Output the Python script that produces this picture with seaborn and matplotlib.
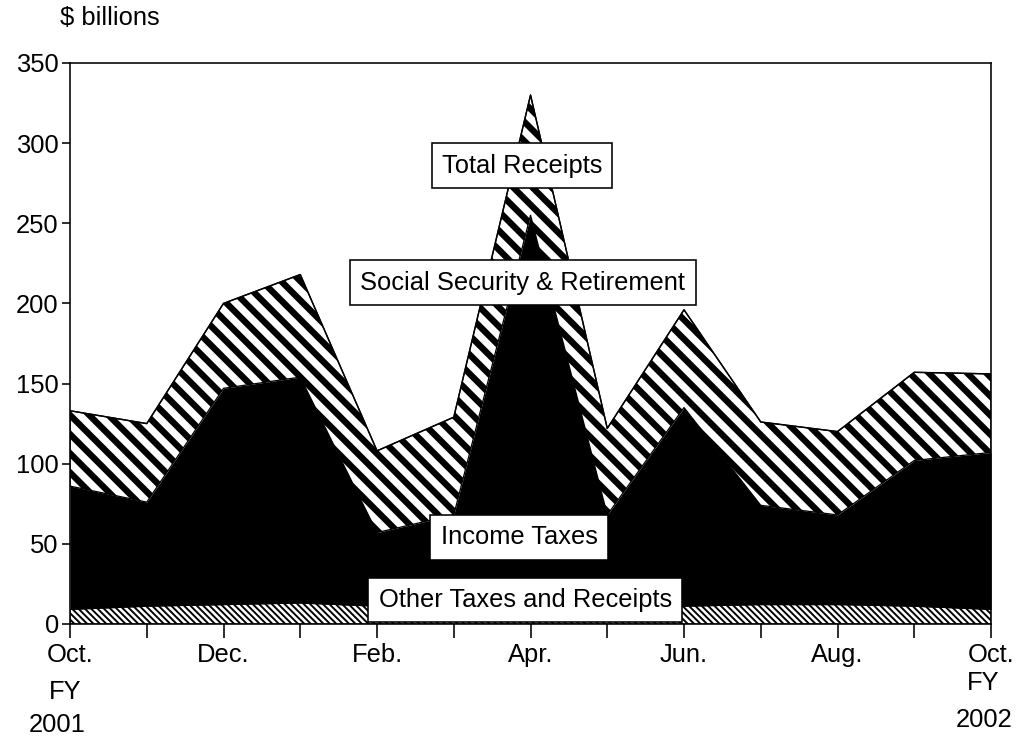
import pandas as pd
import matplotlib
matplotlib.use("Agg")
import matplotlib.pyplot as plt
import seaborn as sns

# Monthly receipts, FY2001 Oct -> FY2002 Oct ($ billions)
months = ["Oct.", "Nov.", "Dec.", "Jan.", "Feb.", "Mar.", "Apr.",
          "May", "Jun.", "Jul.", "Aug.", "Sep.", "Oct."]
other = [9, 11, 12, 13, 11, 11, 12, 11, 11, 12, 12, 11, 9]
income = [77, 65, 135, 141, 46, 57, 243, 57, 124, 62, 56, 91, 98]
socsec = [47, 49, 53, 64, 51, 61, 75, 54, 61, 52, 52, 55, 49]

df = pd.DataFrame({"month": range(len(months)), "other": other,
                   "income": income, "socsec": socsec})
df["income_top"] = df["other"] + df["income"]
df["total"] = df["income_top"] + df["socsec"]

sns.set_style("ticks")
plt.rcParams["font.family"] = ["Liberation Sans", "DejaVu Sans"]
plt.rcParams["font.size"] = 16
plt.rcParams["text.color"] = "black"

DPI = 115
fig, ax = plt.subplots(figsize=(1018 / DPI, 741 / DPI), dpi=DPI)
fig.subplots_adjust(left=0.0688, right=0.9735, top=0.915, bottom=0.158)

# other taxes: fine hatch
with plt.rc_context({"hatch.linewidth": 1.2}):
    ax.fill_between(df["month"], 0, df["other"], facecolor="white",
                    edgecolor="black", hatch="\\" * 6, linewidth=0.6)
# income taxes: solid black
ax.fill_between(df["month"], df["other"], df["income_top"],
                color="black", linewidth=0)
# social security: thick stripes
with plt.rc_context({"hatch.linewidth": 4.0}):
    ax.fill_between(df["month"], df["income_top"], df["total"],
                    facecolor="white", edgecolor="black", hatch="\\\\",
                    linewidth=0.8)
sns.lineplot(data=df, x="month", y="total", color="black", lw=0.9, ax=ax)

ax.set_xlim(0, len(months) - 1)
ax.set_ylim(0, 350)
ax.set_yticks(range(0, 351, 50))
ax.set_xticks(df["month"])
ax.set_xticklabels([m if i % 2 == 0 else "" for i, m in enumerate(months)])
ax.set_xlabel("")
ax.set_ylabel("")
ax.tick_params(axis="x", length=9, width=1, pad=3, labelsize=16, colors="black")
ax.tick_params(axis="y", length=5, width=1, pad=2, labelsize=16, colors="black")
for s in ax.spines.values():
    s.set_visible(True)
    s.set_linewidth(1)
    s.set_color("black")

box = dict(boxstyle="square,pad=0.4", fc="white", ec="black", lw=1)
ax.text(5.89, 286, "Total Receipts", ha="center", va="center", fontsize=16, bbox=box)
ax.text(5.9, 213, "Social Security & Retirement", ha="center", va="center", fontsize=16, bbox=box)
ax.text(5.85, 54, "Income Taxes", ha="center", va="center", fontsize=16, bbox=box)
ax.text(5.93, 15, "Other Taxes and Receipts", ha="center", va="center", fontsize=16, bbox=box)

fig.text(60 / 1018, 1 - 18 / 741, "$ billions", ha="left", va="center", fontsize=16)
fig.text(65 / 1018, 1 - 692 / 741, "FY", ha="center", va="center", fontsize=16)
fig.text(57 / 1018, 1 - 725 / 741, "2001", ha="center", va="center", fontsize=16)
fig.text(983 / 1018, 1 - 683 / 741, "FY", ha="center", va="center", fontsize=16)
fig.text(984 / 1018, 1 - 720 / 741, "2002", ha="center", va="center", fontsize=16)

fig.savefig("out.png", dpi=DPI, facecolor="white")
